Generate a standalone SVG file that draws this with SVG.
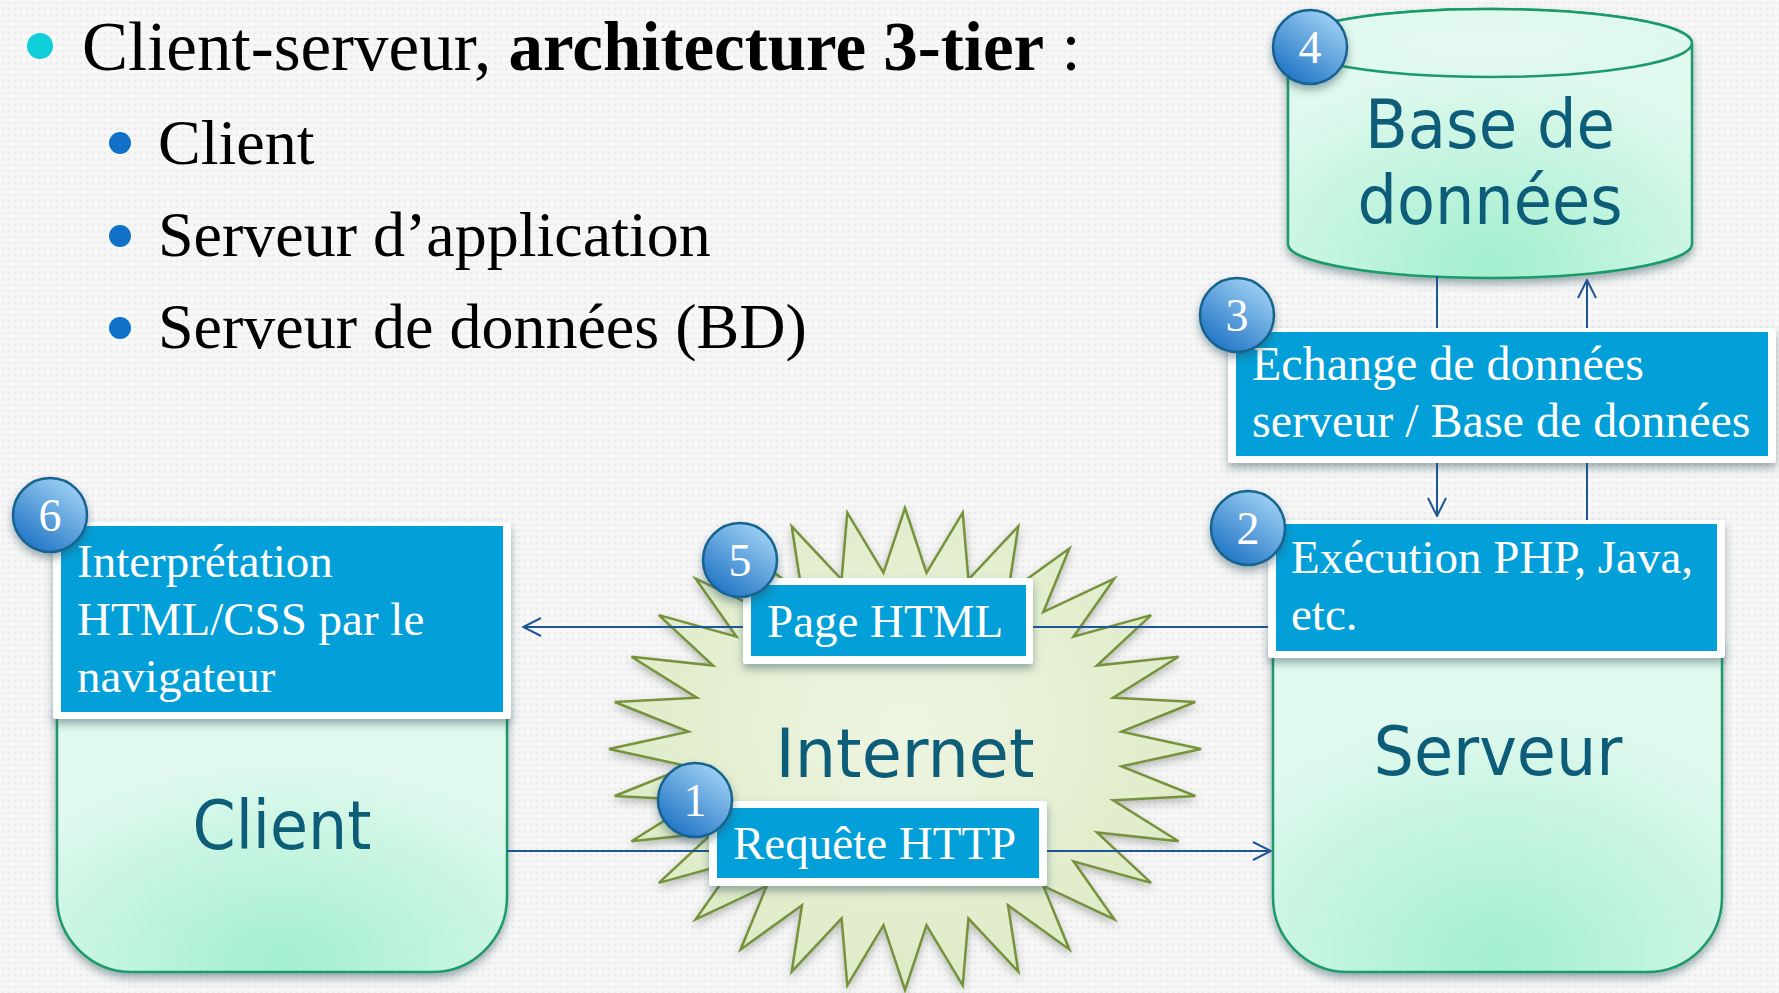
<svg xmlns="http://www.w3.org/2000/svg" width="1779" height="993" viewBox="0 0 1779 993">
<defs>
<pattern id="dots" width="6" height="6" patternUnits="userSpaceOnUse">
<rect width="6" height="6" fill="#F7F7F7"/>
<ellipse cx="3" cy="3" rx="1.6" ry="1.2" fill="#ECECEC"/>
</pattern>
<radialGradient id="mint" cx="50%" cy="95%" r="75%">
<stop offset="0" stop-color="#A2EFCF"/>
<stop offset="1" stop-color="#E2F9EF"/>
</radialGradient>
<radialGradient id="mintTop" cx="50%" cy="50%" r="60%">
<stop offset="0" stop-color="#E6FAF2"/>
<stop offset="1" stop-color="#DDF8EC"/>
</radialGradient>
<radialGradient id="starFill" cx="50%" cy="45%" r="60%">
<stop offset="0" stop-color="#EEF5E2"/>
<stop offset="1" stop-color="#DCEAC3"/>
</radialGradient>
<linearGradient id="ball" x1="0.85" y1="0.1" x2="0.25" y2="0.95">
<stop offset="0" stop-color="#9DD0F3"/>
<stop offset="1" stop-color="#2376C6"/>
</linearGradient>
<filter id="sh" x="-10%" y="-10%" width="120%" height="130%">
<feDropShadow dx="0" dy="5" stdDeviation="4" flood-color="#2B4F5A" flood-opacity="0.45"/>
</filter>
<filter id="sh2" x="-10%" y="-10%" width="120%" height="130%">
<feDropShadow dx="0" dy="4" stdDeviation="4" flood-color="#405040" flood-opacity="0.35"/>
</filter>
<marker id="open" viewBox="0 0 20 20" refX="19" refY="10" markerWidth="20" markerHeight="20" markerUnits="userSpaceOnUse" orient="auto">
<path d="M1,1 L19,10 L1,19" fill="none" stroke="#1F5597" stroke-width="2"/>
</marker>
<style>
.shape{fill:url(#mint);stroke:#1A9A6A;stroke-width:2.5}
.lbl{font-family:"DejaVu Sans",Verdana,sans-serif;fill:#0E5D78;text-anchor:middle}
.boxw{fill:#FFFFFF}
.boxb{fill:#039FD8}
.bt{font-family:"Liberation Serif","Times New Roman",serif;font-size:47px;fill:#FFFFFF}
.bt48{font-size:48px}
.ball{fill:url(#ball);stroke:#17638F;stroke-width:2.5}
.num{font-family:"Liberation Serif","Times New Roman",serif;font-size:46px;fill:#FFFFFF;text-anchor:middle}
.conn{fill:none;stroke:#1F5597;stroke-width:2}
.head{font-family:"Liberation Serif","Times New Roman",serif;fill:#000000}
</style>
</defs>
<rect width="1779" height="993" fill="url(#dots)"/>

<g id="title">
<circle cx="40" cy="46" r="13" fill="#10CEDA"/>
<text class="head" x="82" y="70" font-size="69">Client-serveur, <tspan font-weight="bold">architecture 3-tier</tspan> :</text>
<circle cx="120" cy="143" r="11" fill="#1170C8"/>
<text class="head" x="158" y="164" font-size="64">Client</text>
<circle cx="120" cy="236" r="11" fill="#1170C8"/>
<text class="head" x="158" y="256" font-size="64">Serveur d’application</text>
<circle cx="120" cy="328" r="11" fill="#1170C8"/>
<text class="head" x="158" y="348" font-size="64">Serveur de données (BD)</text>
</g>

<g id="internet">
<polygon filter="url(#sh2)" fill="url(#starFill)" stroke="#76923C" stroke-width="2.5" stroke-linejoin="miter" points="1201,749 1121.5,766.3 1195.3,796 1113.1,800.3 1178.5,841.2 1096.9,832.4 1151.1,882.9 1073.5,861.3 1114.3,919.4 1043.3,885.9 1069.4,949.4 1008.0,905.2 1018.3,971.7 968.4,918.5 962.7,985.4 926.5,925.2 905,990 883.5,925.2 847.3,985.4 841.6,918.5 791.7,971.7 802.0,905.2 740.6,949.4 766.7,885.9 695.7,919.4 736.5,861.3 658.9,882.9 713.1,832.4 631.5,841.2 696.9,800.3 614.7,796 688.5,766.3 609,749 688.5,731.7 614.7,702 696.9,697.7 631.5,656.8 713.1,665.6 658.9,615.1 736.5,636.7 695.7,578.6 766.7,612.1 740.6,548.6 802.0,592.8 791.7,526.3 841.6,579.5 847.3,512.6 883.5,572.8 905,508 926.5,572.8 962.7,512.6 968.4,579.5 1018.3,526.3 1008.0,592.8 1069.4,548.6 1043.3,612.1 1114.3,578.6 1073.5,636.7 1151.1,615.1 1096.9,665.6 1178.5,656.8 1113.1,697.7 1195.3,702 1121.5,731.7"/>
<text class="lbl" x="905" y="777" font-size="68" textLength="259" lengthAdjust="spacingAndGlyphs">Internet</text>
</g>

<g id="database">
<path class="shape" filter="url(#sh)" d="M1288,43 L1288,244 A202,34 0 0 0 1692,244 L1692,43 A202,34 0 0 0 1288,43 Z"/>
<ellipse cx="1490" cy="43" rx="202" ry="34" fill="url(#mintTop)" stroke="#1A9A6A" stroke-width="2.5"/>
<text class="lbl" x="1490" y="148" font-size="68" textLength="250" lengthAdjust="spacingAndGlyphs">Base de</text>
<text class="lbl" x="1490" y="224" font-size="68" textLength="265" lengthAdjust="spacingAndGlyphs">données</text>
</g>

<g id="client">
<path class="shape" filter="url(#sh)" d="M57,705 L507,705 L507,897 A75,75 0 0 1 432,972 L132,972 A75,75 0 0 1 57,897 Z"/>
<text class="lbl" x="282" y="849" font-size="67" textLength="179" lengthAdjust="spacingAndGlyphs">Client</text>
</g>

<g id="serveur">
<path class="shape" filter="url(#sh)" d="M1273,640 L1722,640 L1722,897 A75,75 0 0 1 1647,972 L1348,972 A75,75 0 0 1 1273,897 Z"/>
<text class="lbl" x="1498" y="775" font-size="68" textLength="249" lengthAdjust="spacingAndGlyphs">Serveur</text>
</g>

<g id="connectors">
<line class="conn" x1="507" y1="851" x2="1271" y2="851" marker-end="url(#open)"/>
<line class="conn" x1="1268" y1="627" x2="523" y2="627" marker-end="url(#open)"/>
<line class="conn" x1="1437" y1="276" x2="1437" y2="516" marker-end="url(#open)"/>
<line class="conn" x1="1587" y1="520" x2="1587" y2="280" marker-end="url(#open)"/>
</g>

<g id="step3">
<rect class="boxw" filter="url(#sh)" x="1228" y="328" width="548" height="135" rx="3"/>
<rect class="boxb" x="1236" y="332" width="532" height="124"/>
<text class="bt bt48" x="1252" y="380">Echange de données</text>
<text class="bt bt48" x="1252" y="437">serveur / Base de données</text>
<circle class="ball" filter="url(#sh)" cx="1237" cy="315" r="37"/>
<text class="num" x="1237" y="331">3</text>
</g>

<g id="step2">
<rect class="boxw" filter="url(#sh)" x="1268" y="520" width="457" height="138" rx="3"/>
<rect class="boxb" x="1276" y="524" width="441" height="127"/>
<text class="bt" x="1291" y="573">Exécution PHP, Java,</text>
<text class="bt" x="1291" y="630">etc.</text>
<circle class="ball" filter="url(#sh)" cx="1248" cy="528" r="37"/>
<text class="num" x="1248" y="544">2</text>
</g>

<g id="step6">
<rect class="boxw" filter="url(#sh)" x="53" y="522" width="458" height="197" rx="3"/>
<rect class="boxb" x="61" y="526" width="442" height="186"/>
<text class="bt" x="77" y="577">Interprétation</text>
<text class="bt" x="77" y="635">HTML/CSS par le</text>
<text class="bt" x="77" y="692">navigateur</text>
<circle class="ball" filter="url(#sh)" cx="50" cy="515" r="37"/>
<text class="num" x="50" y="531">6</text>
</g>

<g id="step5">
<rect class="boxw" filter="url(#sh)" x="743" y="578" width="290" height="86" rx="3"/>
<rect class="boxb" x="751" y="585" width="275" height="71"/>
<text class="bt" x="767" y="637">Page HTML</text>
<circle class="ball" filter="url(#sh)" cx="740" cy="560" r="37"/>
<text class="num" x="740" y="576">5</text>
</g>

<g id="step1">
<rect class="boxw" filter="url(#sh)" x="709" y="801" width="338" height="85" rx="3"/>
<rect class="boxb" x="717" y="808" width="322" height="70"/>
<text class="bt" x="733" y="859">Requête HTTP</text>
<circle class="ball" filter="url(#sh)" cx="695" cy="800" r="37"/>
<text class="num" x="695" y="816">1</text>
</g>

<g id="step4">
<circle class="ball" filter="url(#sh)" cx="1310" cy="47" r="37"/>
<text class="num" x="1310" y="63">4</text>
</g>
</svg>
